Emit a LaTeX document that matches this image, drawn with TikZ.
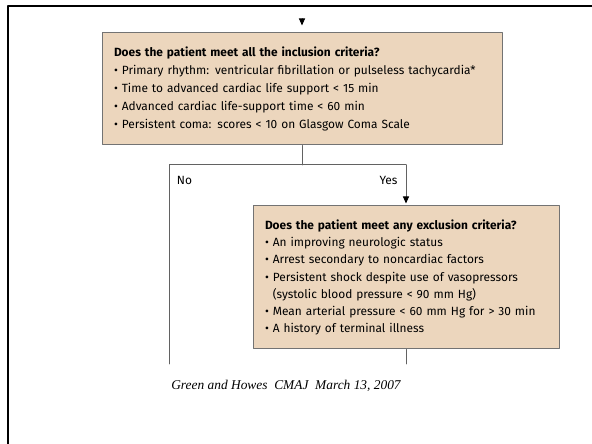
\documentclass[tikz,border=0pt]{standalone}
\usepackage{fontspec}
\setsansfont{Fira Sans}
\newfontfamily\capfont{Liberation Serif}
\usetikzlibrary{arrows.meta}
\definecolor{boxtan}{RGB}{236,214,189}
\definecolor{edgegray}{RGB}{115,115,115}

\begin{document}
\begin{tikzpicture}[line cap=round,line join=round,>={Triangle[length=7pt,width=6pt,color=black]},x=1pt,y=1pt,
	crit/.style={draw=edgegray,fill=boxtan,line width=1pt,align=left,inner xsep=12pt,inner ysep=0pt,font=\sffamily\fontsize{11.9}{18.2}\selectfont},
	flow/.style={draw=edgegray!85!black,line width=1pt},
	lbl/.style={font=\sffamily\fontsize{11.9}{14}\selectfont}]
		\useasboundingbox (0,0) rectangle (592,444);
		\draw [line width=2pt] (7.5,0) -- (7.5,438) -- (592,438);
		% decision boxes
		\node [crit,minimum width=400pt,minimum height=112pt,text width=376pt] (incl) at (302,355) {\textbf{Does the patient meet all the inclusion criteria?}\\
			\textbullet\ Primary rhythm: ventricular fibrillation or pulseless tachycardia*\\
			\textbullet\ Time to advanced cardiac life support < 15 min\\
			\textbullet\ Advanced cardiac life-support time < 60 min\\
			\textbullet\ Persistent coma: scores < 10 on Glasgow Coma Scale};
		\node [crit,font=\sffamily\fontsize{11.9}{17.1}\selectfont,minimum width=306pt,minimum height=143pt,text width=282pt] (excl) at (406,166.5) {\textbf{Does the patient meet any exclusion criteria?}\\
			\textbullet\ An improving neurologic status\\
			\textbullet\ Arrest secondary to noncardiac factors\\
			\textbullet\ Persistent shock despite use of vasopressors\\
			\phantom{\textbullet\ }(systolic blood pressure < 90 mm Hg)\\
			\textbullet\ Mean arterial pressure < 60 mm Hg for > 30 min\\
			\textbullet\ A history of terminal illness};
		% branches
		\coordinate (topin) at (302,425);
		\coordinate (split) at (302,279);
		\coordinate (nocorner) at (169,279);
		\coordinate (yescorner) at (406,279);
		\coordinate (noend) at (169,80);
		\coordinate (yesend) at (406,80);
		\draw [->,flow] (topin) -- ([yshift=7pt]incl.north);
		\draw [flow] (incl.south) -- (split);
		\draw [flow] (noend) -- (nocorner) -- (yescorner);
		\draw [->,flow,shorten >=2pt] (yescorner) -- (excl.north);
		\draw [flow] (excl.south) -- (yesend);
		\node [lbl] (no) at (184.5,264) {No};
		\node [lbl] (yes) at (388.5,264) {Yes};
		\node [font=\capfont\itshape\fontsize{13.4}{16}\selectfont] (cite) at (286,58) {Green and Howes\ \ CMAJ\ \ March 13, 2007};
\end{tikzpicture}
\end{document}
